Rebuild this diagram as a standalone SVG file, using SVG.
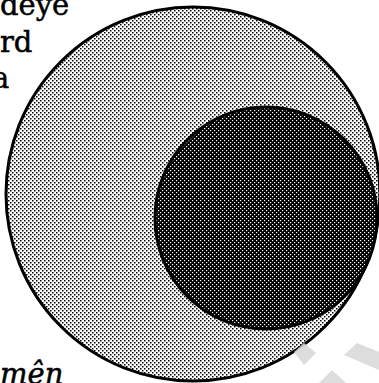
<svg xmlns="http://www.w3.org/2000/svg" width="379" height="383" viewBox="0 0 379 383">
  <style>
    .lbl { font-family: "DejaVu Serif", "Liberation Serif", serif; font-size: 29px; fill: #000; stroke: #000; stroke-width: 0.5; }
    .it { font-style: italic; }
    .ring { stroke: #000; stroke-width: 3; }
    .wm { fill: #d9d9d9; opacity: 0.9; }
  </style>
  <defs>
    <pattern id="light" width="4" height="4" patternUnits="userSpaceOnUse">
      <rect width="4" height="4" fill="#fff"/>
      <rect x="0" y="0" width="1.5" height="1.5" fill="#000"/>
      <rect x="2" y="2" width="1.5" height="1.5" fill="#000"/>
    </pattern>
    <pattern id="dark" width="4" height="4" patternUnits="userSpaceOnUse">
      <rect width="4" height="4" fill="#000"/>
      <rect x="0" y="0" width="1.2" height="1.2" fill="#fff"/>
      <rect x="2" y="2" width="1.2" height="1.2" fill="#fff"/>
    </pattern>
  </defs>
  <g id="outer">
    <circle cx="193" cy="194" r="187" fill="url(#light)" class="ring"/>
  </g>
  <g id="inner">
    <circle cx="266" cy="218" r="111" fill="url(#dark)" class="ring"/>
  </g>
  <g id="labels">
    <text class="lbl" x="0" y="15">deye</text>
    <text class="lbl" x="0" y="52">rd</text>
    <text class="lbl" x="-8" y="88">a</text>
    <text class="lbl it" x="0" y="384">mên</text>
  </g>
  <g id="connectors"/>
  <g id="watermark">
    <polygon class="wm" points="294,352 304,343 316,353 304,365"/>
    <polygon class="wm" points="344,355 357,343 379,352 379,370"/>
    <polygon class="wm" points="319,383 332,370 346,383"/>
  </g>
</svg>
